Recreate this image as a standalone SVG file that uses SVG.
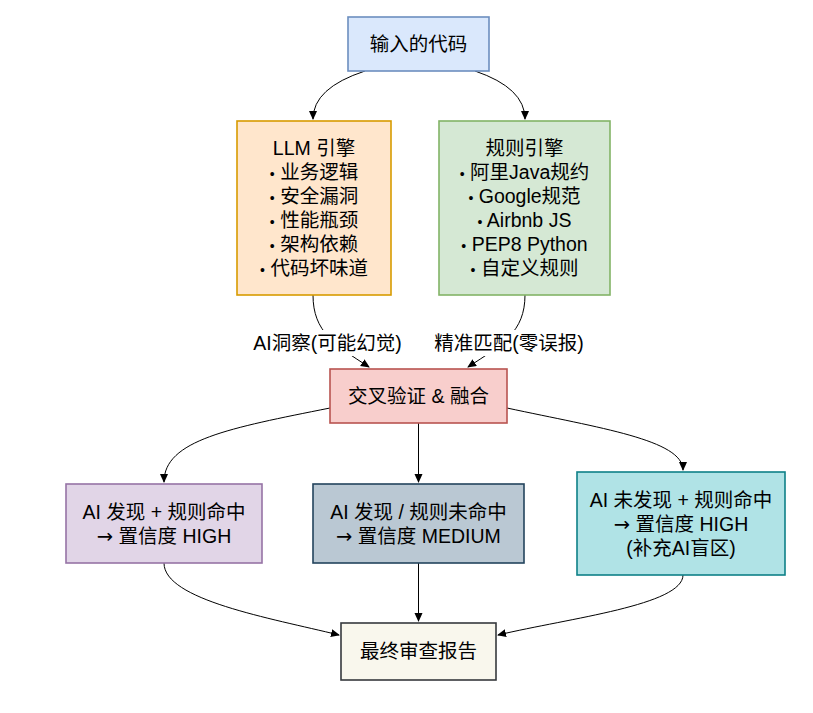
<svg xmlns="http://www.w3.org/2000/svg" width="813" height="713" viewBox="0 0 813 713">
<style>
  .t { font-family: "Liberation Sans", "Noto Sans CJK SC", sans-serif; font-size: 19.5px; fill: #000; text-anchor: middle; }
  .b { font-size: 14px; }
  .ar { font-family: "DejaVu Sans", sans-serif; }
  .box { stroke-width: 1.6; }
  .edge { fill: none; stroke: #000; stroke-width: 1; }
</style>
<defs>
  <marker id="arr" markerUnits="userSpaceOnUse" markerWidth="10" markerHeight="10" refX="8" refY="4" orient="auto">
    <path d="M0,0 L9,4 L0,8 Z" fill="#000"/>
  </marker>
</defs>
<rect width="813" height="713" fill="#fff"/>

<g id="connectors">
  <path class="edge" d="M365,71 Q313,88 313,119" marker-end="url(#arr)"/>
  <path class="edge" d="M475,71 Q525,88 525,119" marker-end="url(#arr)"/>
  <path class="edge" d="M313,295 C313,332 335,345 369,367" marker-end="url(#arr)"/>
  <path class="edge" d="M525,295 C525,332 502,345 468,367" marker-end="url(#arr)"/>
  <path class="edge" d="M330,408 C230,428 164,440 164,482" marker-end="url(#arr)"/>
  <path class="edge" d="M418.5,423 L418.5,482" marker-end="url(#arr)"/>
  <path class="edge" d="M507,408 C600,428 683,440 683,470" marker-end="url(#arr)"/>
  <path class="edge" d="M164,563 C164,600 270,618 339,635" marker-end="url(#arr)"/>
  <path class="edge" d="M418.5,563 L418.5,621" marker-end="url(#arr)"/>
  <path class="edge" d="M683,575 C683,605 570,618 498,635" marker-end="url(#arr)"/>
  <g id="label-ai">
    <rect x="250" y="330" width="155" height="26" fill="#fff"/>
    <text class="t" x="327.5" y="350">AI洞察(可能幻觉)</text>
  </g>
  <g id="label-rule">
    <rect x="431" y="330" width="156" height="26" fill="#fff"/>
    <text class="t" x="509" y="350">精准匹配(零误报)</text>
  </g>
</g>

<g id="node-input">
  <rect class="box" x="348" y="17" width="141" height="54" fill="#dae8fc" stroke="#6c8ebf"/>
  <text class="t" x="418.5" y="51">输入的代码</text>
</g>

<g id="node-llm">
  <rect class="box" x="237" y="121" width="154" height="174" fill="#ffe6cc" stroke="#d79b00"/>
  <text class="t" x="314" y="155">LLM 引擎</text>
  <text class="t" x="314" y="179"><tspan class="b">•</tspan> 业务逻辑</text>
  <text class="t" x="314" y="203"><tspan class="b">•</tspan> 安全漏洞</text>
  <text class="t" x="314" y="227"><tspan class="b">•</tspan> 性能瓶颈</text>
  <text class="t" x="314" y="251"><tspan class="b">•</tspan> 架构依赖</text>
  <text class="t" x="314" y="275"><tspan class="b">•</tspan> 代码坏味道</text>
</g>

<g id="node-rules">
  <rect class="box" x="439" y="121" width="171" height="174" fill="#d5e8d4" stroke="#82b366"/>
  <text class="t" x="524.5" y="155">规则引擎</text>
  <text class="t" x="524.5" y="179"><tspan class="b">•</tspan> 阿里Java规约</text>
  <text class="t" x="524.5" y="203"><tspan class="b">•</tspan> Google规范</text>
  <text class="t" x="524.5" y="227"><tspan class="b">•</tspan> Airbnb JS</text>
  <text class="t" x="524.5" y="251"><tspan class="b">•</tspan> PEP8 Python</text>
  <text class="t" x="524.5" y="275"><tspan class="b">•</tspan> 自定义规则</text>
</g>

<g id="node-fusion">
  <rect class="box" x="330" y="369" width="177" height="54" fill="#f8cecc" stroke="#b85450"/>
  <text class="t" x="418.5" y="403">交叉验证 &amp; 融合</text>
</g>

<g id="node-high1">
  <rect class="box" x="66" y="484" width="196" height="79" fill="#e1d5e7" stroke="#9673a6"/>
  <text class="t" x="164" y="519">AI 发现 + 规则命中</text>
  <text class="t" x="164" y="543"><tspan class="ar">→</tspan> 置信度 HIGH</text>
</g>

<g id="node-medium">
  <rect class="box" x="313" y="484" width="211" height="79" fill="#bac8d3" stroke="#23445d"/>
  <text class="t" x="418.5" y="519">AI 发现 / 规则未命中</text>
  <text class="t" x="418.5" y="543"><tspan class="ar">→</tspan> 置信度 MEDIUM</text>
</g>

<g id="node-high2">
  <rect class="box" x="577" y="472" width="208" height="103" fill="#b0e3e6" stroke="#0e8088"/>
  <text class="t" x="681" y="507">AI 未发现 + 规则命中</text>
  <text class="t" x="681" y="531"><tspan class="ar">→</tspan> 置信度 HIGH</text>
  <text class="t" x="681" y="555">(补充AI盲区)</text>
</g>

<g id="node-report">
  <rect class="box" x="341" y="623" width="155" height="57" fill="#f9f7ed" stroke="#36393d"/>
  <text class="t" x="418.5" y="658">最终审查报告</text>
</g>
</svg>
